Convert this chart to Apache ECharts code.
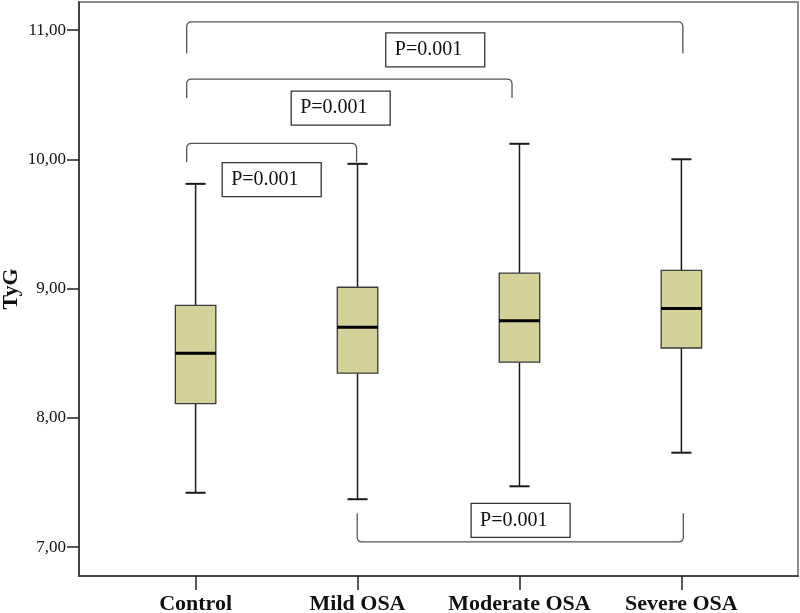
<!DOCTYPE html>
<html><head><meta charset="utf-8">
<script src="https://cdn.jsdelivr.net/npm/echarts@6/dist/echarts.min.js"></script>
<style>html,body{margin:0;padding:0;background:#fff}#c{width:800px;height:613px}</style>
</head><body><div id="c"></div>
<script>
const categories = ['Control', 'Mild OSA', 'Moderate OSA', 'Severe OSA'];
const whiskerLow = [7.42, 7.37, 7.47, 7.73];
const q1 = [8.11, 8.345, 8.43, 8.54];
const median = [8.50, 8.70, 8.75, 8.845];
const q3 = [8.87, 9.01, 9.12, 9.14];
const whiskerHigh = [9.81, 9.965, 10.12, 10.00];
const yTicks = [7, 8, 9, 10, 11];
const xTicks = [0, 1, 2, 3];
// comparison brackets
const bracketStart = [-0.055, -0.055, -0.055, 0.998];
const bracketEnd = [3.009, 1.954, 0.994, 3.012];
const bracketBar = [11.064, 10.621, 10.123, 7.04];
const bracketLeg = [10.818, 10.474, 9.978, 7.262];
const pLabels = ['P=0.001', 'P=0.001', 'P=0.001', 'P=0.001'];
const pLabelX = [1.48, 0.896, 0.47, 2.007];
const pLabelY = [10.846, 10.396, 9.843, 7.207];

const SERIF = "'Liberation Serif', 'Times New Roman', serif";
const chart = echarts.init(document.getElementById('c'), null, {renderer: 'canvas'});

const boxData = categories.map((c, i) => [i, whiskerLow[i], q1[i], median[i], q3[i], whiskerHigh[i]]);
const bracketData = bracketStart.map((s, i) => [s, bracketEnd[i], bracketBar[i], bracketLeg[i]]);
const labelData = pLabels.map((t, i) => [pLabelX[i], pLabelY[i], t]);

chart.setOption({
  animation: false,
  backgroundColor: '#fff',
  grid: {left: 79, right: 2, top: 2, bottom: 37, show: true, borderColor: '#8a8a8a', borderWidth: 2,
    containLabel: false, outerBoundsMode: 'none'},
  xAxis: {
    type: 'value', min: -0.72, max: 3.72,
    splitLine: {show: false},
    axisLine: {show: true, onZero: false, lineStyle: {color: '#444', width: 2}},
    axisTick: {show: true, customValues: xTicks, length: 14, lineStyle: {color: '#222', width: 1.5}},
    axisLabel: {customValues: xTicks, formatter: v => categories[Math.round(v)], margin: 17,
      fontFamily: SERIF, fontWeight: 'bold', fontSize: 22, color: '#111'}
  },
  yAxis: {
    type: 'value', min: 6.776, max: 11.217,
    name: 'TyG', nameLocation: 'middle', nameGap: 68, nameRotate: 90, nameMoveOverlap: false,
    nameTextStyle: {fontFamily: SERIF, fontWeight: 'bold', fontSize: 22, color: '#111',
      align: 'center', verticalAlign: 'middle'},
    splitLine: {show: false},
    axisLine: {show: true, onZero: false, lineStyle: {color: '#444', width: 2}},
    axisTick: {show: true, customValues: yTicks, length: 12, lineStyle: {color: '#222', width: 1.5}},
    axisLabel: {customValues: yTicks, formatter: v => v.toFixed(2).replace('.', ','), margin: 13,
      fontFamily: SERIF, fontSize: 17, color: '#111'}
  },
  series: [
    {
      type: 'custom', clip: false,
      data: boxData,
      encode: {x: 0, y: [1, 2, 3, 4, 5]},
      renderItem: function (params, api) {
        const x = api.value(0);
        const unit = api.size([1, 0])[0];
        const bw = unit * 0.25, cw = unit * 0.124;
        const pLo = api.coord([x, api.value(1)]);
        const pQ1 = api.coord([x, api.value(2)]);
        const pMed = api.coord([x, api.value(3)]);
        const pQ3 = api.coord([x, api.value(4)]);
        const pHi = api.coord([x, api.value(5)]);
        const cx = pMed[0];
        const ws = {stroke: '#1a1a1a', lineWidth: 1.5};
        return {type: 'group', children: [
          {type: 'line', shape: {x1: cx, y1: pLo[1], x2: cx, y2: pQ1[1]}, style: ws},
          {type: 'line', shape: {x1: cx, y1: pQ3[1], x2: cx, y2: pHi[1]}, style: ws},
          {type: 'line', shape: {x1: cx - cw / 2, y1: pLo[1], x2: cx + cw / 2, y2: pLo[1]}, style: {stroke: '#1a1a1a', lineWidth: 2}},
          {type: 'line', shape: {x1: cx - cw / 2, y1: pHi[1], x2: cx + cw / 2, y2: pHi[1]}, style: {stroke: '#1a1a1a', lineWidth: 2}},
          {type: 'rect', shape: {x: cx - bw / 2, y: pQ3[1], width: bw, height: pQ1[1] - pQ3[1]},
            style: {fill: '#d4d19a', stroke: '#3a3a3a', lineWidth: 1.3}},
          {type: 'line', shape: {x1: cx - bw / 2, y1: pMed[1], x2: cx + bw / 2, y2: pMed[1]}, style: {stroke: '#000', lineWidth: 3}}
        ]};
      }
    },
    {
      type: 'custom', clip: false,
      data: bracketData,
      encode: {x: [0, 1], y: [2, 3]},
      renderItem: function (params, api) {
        const a = api.coord([api.value(0), api.value(2)]);
        const b = api.coord([api.value(1), api.value(3)]);
        const x1 = a[0], x2 = b[0], yb = a[1], yl = b[1];
        const r = 5;
        const dir = yl > yb ? 1 : -1;
        const d = 'M' + x1 + ' ' + yl + ' L' + x1 + ' ' + (yb + dir * r) +
          ' Q' + x1 + ' ' + yb + ' ' + (x1 + r) + ' ' + yb +
          ' L' + (x2 - r) + ' ' + yb +
          ' Q' + x2 + ' ' + yb + ' ' + x2 + ' ' + (yb + dir * r) +
          ' L' + x2 + ' ' + yl;
        return {type: 'path', shape: {pathData: d}, style: {fill: null, stroke: '#555', lineWidth: 1.3}};
      }
    },
    {
      type: 'custom', clip: false,
      data: labelData,
      encode: {x: 0, y: 1},
      renderItem: function (params, api) {
        const p = api.coord([api.value(0), api.value(1)]);
        const w = 99, h = 34;
        return {type: 'group', children: [
          {type: 'rect', shape: {x: p[0] - w / 2, y: p[1] - h / 2, width: w, height: h},
            style: {fill: '#fff', stroke: '#333', lineWidth: 1.3}},
          {type: 'text', style: {x: p[0] - w / 2 + 9, y: p[1], text: labelData[params.dataIndex][2],
            fontFamily: SERIF, fontSize: 20, fill: '#111', verticalAlign: 'middle', align: 'left'}}
        ]};
      }
    }
  ]
});
</script></body></html>
